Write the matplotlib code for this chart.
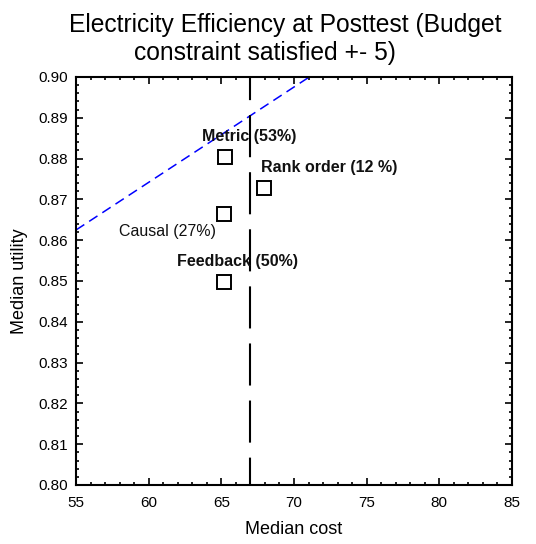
import numpy as np
import matplotlib.pyplot as plt
from matplotlib.ticker import MultipleLocator

plt.rcParams['font.family'] = ['Liberation Sans', 'DejaVu Sans']

# data
groups = ['Metric (53%)', 'Rank order (12 %)', 'Causal (27%)', 'Feedback (50%)']
cost = [65.26, 67.96, 65.15, 65.15]
utility = [0.8805, 0.8727, 0.8665, 0.8498]
label_x = [66.9, 72.4, 61.3, 66.1]
label_y = [0.8855, 0.8777, 0.8621, 0.8549]
label_bold = [True, True, False, True]

budget_cost = 67.0
frontier_cost = [55.0, 71.05]
frontier_util = [0.8625, 0.900]

fig = plt.figure(figsize=(5.36, 5.44), dpi=100)
ax = fig.add_axes([76 / 536, 1 - 485 / 544, 436 / 536, 408 / 544])

ax.plot(frontier_cost, frontier_util, color='blue', lw=1.1, dashes=(6.5, 3.8))
# budget line, drawn top-down so the dash phase matches
ax.plot([budget_cost, budget_cost], [0.90, 0.80], color='black', lw=1.5,
        linestyle=(9.1, (20.2, 7.2)))
ax.plot(cost, utility, 's', ms=10.5, mfc='white', mec='black', mew=1.4, ls='none', zorder=5)

for txt, x, y, b in zip(groups, label_x, label_y, label_bold):
    ax.text(x, y, txt, ha='center', va='center', fontsize=11.5,
            fontweight='bold' if b else 'normal', color='#111111')

ax.set_xlim(55, 85)
ax.set_ylim(0.80, 0.90)
ax.xaxis.set_major_locator(MultipleLocator(5))
ax.xaxis.set_minor_locator(MultipleLocator(1))
ax.yaxis.set_major_locator(MultipleLocator(0.01))
ax.yaxis.set_minor_locator(MultipleLocator(0.002))
ax.yaxis.set_major_formatter(plt.FormatStrFormatter('%.2f'))
ax.tick_params(which='both', direction='in', top=True, right=True, width=1.2)
ax.tick_params(which='major', length=5, labelsize=11)
ax.tick_params(which='minor', length=2.5)
ax.tick_params(axis='x', pad=8)
ax.tick_params(axis='y', pad=6)
for s in ax.spines.values():
    s.set_linewidth(1.5)

ax.set_xlabel('Median cost', fontsize=13, labelpad=8)
ax.set_ylabel('Median utility', fontsize=13, labelpad=7)

fig.text(285 / 536, 1 - 32 / 544, 'Electricity Efficiency at Posttest (Budget',
         ha='center', va='baseline', fontsize=17.7)
fig.text(265 / 536, 1 - 60 / 544, 'constraint satisfied +- 5)',
         ha='center', va='baseline', fontsize=17.7)

fig.savefig('out.png', dpi=100)
